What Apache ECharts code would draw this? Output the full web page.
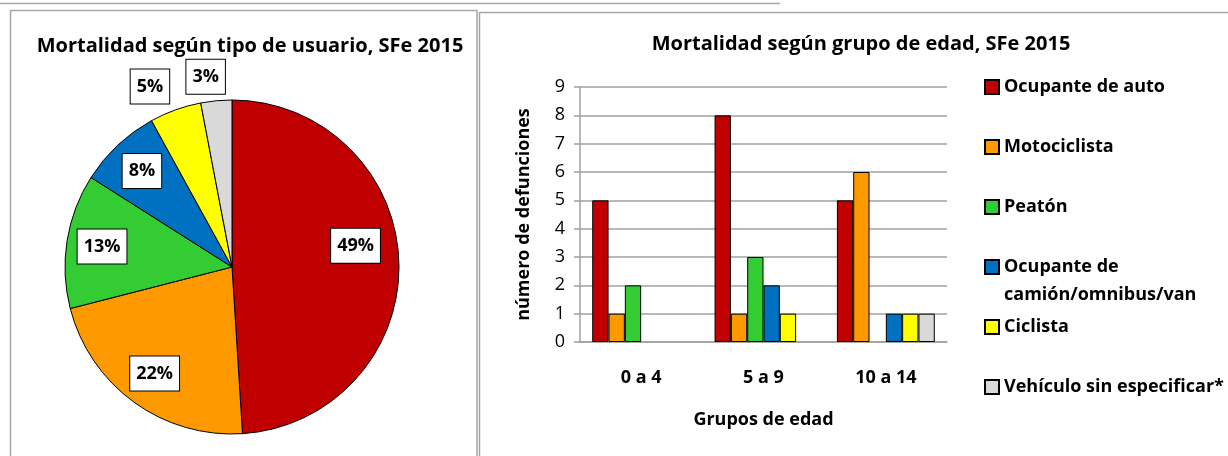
<!DOCTYPE html>
<html>
<head>
<meta charset="utf-8">
<script src="https://cdn.jsdelivr.net/npm/echarts@6/dist/echarts.min.js"></script>
<style>
  html, body { margin: 0; padding: 0; background: #fff; }
  #chart { width: 1228px; height: 456px; }
</style>
</head>
<body>
<div id="chart"></div>
<script>
// tipos de usuario (pie) y sus porcentajes
const userTypes = ["Ocupante de auto", "Motociclista", "Peatón", "Ocupante de camión/omnibus/van", "Ciclista", "Vehículo sin especificar*"];
const piePercent = [49, 22, 13, 8, 5, 3];

// defunciones por grupo de edad (barras)
const ageGroups = ["0 a 4", "5 a 9", "10 a 14"];
const autoDeaths = [5, 8, 5];
const motoDeaths = [1, 1, 6];
const peatonDeaths = [2, 3, 0];
const camionDeaths = [0, 2, 1];
const ciclistaDeaths = [0, 1, 1];
const sinEspDeaths = [0, 0, 1];
const yTicks = [0, 1, 2, 3, 4, 5, 6, 7, 8, 9];

const colors = ["#C00000", "#FF9900", "#33CC33", "#0070C0", "#FFFF00", "#D9D9D9"];
const FONT = "Open Sans";

const chart = echarts.init(document.getElementById("chart"));

const pieCenter = [232, 267];
const pieR = 167;

const labelStyle = {
  fontFamily: FONT,
  fontWeight: "bold",
  fontSize: 18,
  color: "#000",
  backgroundColor: "#fff",
  borderColor: "#000",
  borderWidth: 1,
  padding: [7, 6, 6, 6],
  lineHeight: 21,
};

// transparent copy of the pie, only used to place the percentage boxes
const labelPie = (radius, shown, offsets) => ({
  type: "pie",
  center: pieCenter,
  radius: [0, radius],
  startAngle: 90,
  clockwise: true,
  silent: true,
  avoidLabelOverlap: false,
  z: 5,
  itemStyle: { color: "transparent", borderWidth: 0 },
  labelLine: { show: false },
  data: piePercent.map((v, i) => ({
    value: v,
    name: userTypes[i],
    label: {
      show: shown.includes(i),
      position: "inside",
      offset: offsets[i] || [0, 0],
      formatter: "{c}%",
      ...labelStyle,
    },
  })),
});

const barData = [autoDeaths, motoDeaths, peatonDeaths, camionDeaths, ciclistaDeaths, sinEspDeaths];

const legendCenters = [87, 147, 207, 267, 327, 387];
const legends = userTypes.map((name, i) => {
  const multi = name.includes("camión");
  return {
    data: [name],
    orient: "vertical",
    left: 984,
    top: multi ? legendCenters[i] - 42 : legendCenters[i] - 10,
    padding: 0,
    icon: "rect",
    itemWidth: 14,
    itemHeight: 14,
    selectedMode: false,
    // leading blank line keeps the icon level with "Ocupante de"
    formatter: (n) => (multi ? "\n" + n.replace("de camión", "de\ncamión") : n),
    textStyle: {
      fontFamily: FONT,
      fontWeight: "bold",
      fontSize: 18,
      color: "#000",
      lineHeight: multi ? 28 : 20,
    },
  };
});

const option = {
  backgroundColor: "#fff",
  animation: false,
  title: [
    {
      text: "Mortalidad según tipo de usuario, SFe 2015",
      left: 250,
      top: 36,
      textAlign: "center",
      padding: 0,
      textStyle: { fontFamily: FONT, fontWeight: "bold", fontSize: 20, color: "#000" },
    },
    {
      text: "Mortalidad según grupo de edad, SFe 2015",
      left: 861,
      top: 34,
      textAlign: "center",
      padding: 0,
      textStyle: { fontFamily: FONT, fontWeight: "bold", fontSize: 20, color: "#000" },
    },
  ],
  legend: legends,
  graphic: [
    { type: "line", shape: { x1: 0, y1: 3.5, x2: 780, y2: 3.5 }, style: { stroke: "#A6A6A6", lineWidth: 1.5 } },
    { type: "polyline", shape: { points: [[10.5, 460], [10.5, 10.5], [477, 10.5], [477, 460]] }, style: { stroke: "#A6A6A6", lineWidth: 1.5, fill: null } },
    { type: "polyline", shape: { points: [[479.5, 460], [479.5, 12.5], [1230, 12.5]] }, style: { stroke: "#A6A6A6", lineWidth: 1.5, fill: null } },
  ],
  grid: { left: 580, right: 281, top: 87, bottom: 114 },
  xAxis: {
    type: "category",
    data: ageGroups,
    name: "Grupos de edad",
    nameLocation: "middle",
    nameGap: 69,
    nameTextStyle: { fontFamily: FONT, fontWeight: "bold", fontSize: 18, color: "#000" },
    axisLine: { lineStyle: { color: "#A0A0A0", width: 1.5 } },
    axisTick: { show: false },
    axisLabel: { margin: 27, fontFamily: FONT, fontWeight: "bold", fontSize: 18, color: "#000" },
  },
  yAxis: {
    type: "value",
    min: yTicks[0],
    max: yTicks[yTicks.length - 1],
    interval: 1,
    name: "número de defunciones",
    nameLocation: "middle",
    nameGap: 47,
    nameTextStyle: { fontFamily: FONT, fontWeight: "bold", fontSize: 18, color: "#000" },
    axisLine: { show: true, lineStyle: { color: "#A0A0A0", width: 1.5 } },
    axisTick: { show: true, length: 6, lineStyle: { color: "#A0A0A0", width: 1.5 } },
    splitLine: { lineStyle: { color: "#A0A0A0", width: 1.5 } },
    axisLabel: { margin: 15, fontFamily: FONT, fontSize: 18, color: "#000" },
  },
  series: [
    {
      type: "pie",
      center: pieCenter,
      radius: [0, pieR],
      startAngle: 90,
      clockwise: true,
      silent: true,
      label: { show: false },
      labelLine: { show: false },
      itemStyle: { borderColor: "#000", borderWidth: 1 },
      data: piePercent.map((v, i) => ({ value: v, name: userTypes[i], itemStyle: { color: colors[i] } })),
    },
    labelPie(pieR * 1.54, [0, 1, 2, 3], { 0: [-8, -17] }),
    labelPie(pieR * 2.3, [4, 5], { 4: [-16, 3], 5: [-8, 4] }),
    ...barData.map((vals, i) => ({
      type: "bar",
      name: userTypes[i],
      data: vals.map((v) => (v === 0 ? "-" : v)),
      barGap: "0%",
      barCategoryGap: "20%",
      itemStyle: { color: colors[i], borderColor: "#000", borderWidth: 1 },
    })),
  ],
};

chart.setOption(option);
</script>
</body>
</html>
